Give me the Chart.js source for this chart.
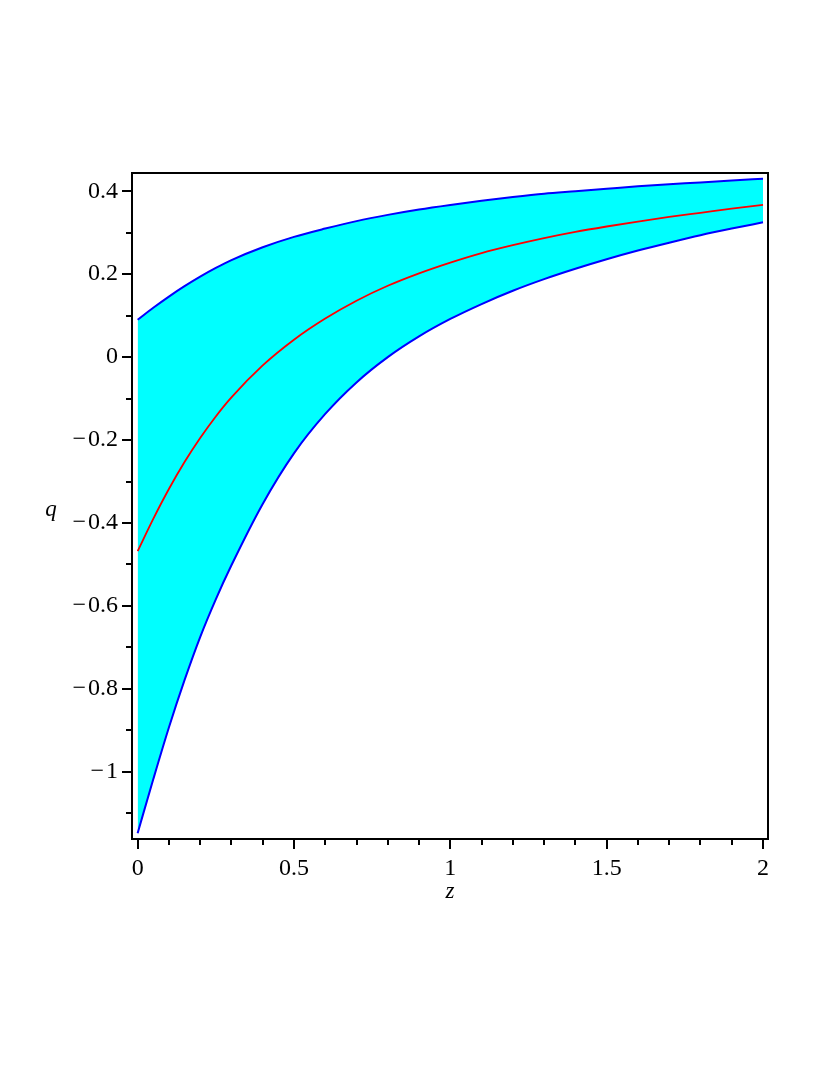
<!DOCTYPE html>
<html>
<head>
<meta charset="utf-8">
<script src="https://cdn.jsdelivr.net/npm/chart.js@4"></script>
<style>
  html, body { margin: 0; padding: 0; background: #fff; }
  canvas { display: block; }
</style>
</head>
<body>
<canvas id="chart" width="830" height="1075"></canvas>
<script>
// redshift grid
const zValues = [0, 0.05, 0.1, 0.15, 0.2, 0.25, 0.3, 0.4, 0.5, 0.6, 0.7, 0.8, 0.9, 1.0,
                 1.1, 1.2, 1.3, 1.4, 1.5, 1.6, 1.7, 1.8, 1.9, 2.0];
// upper bound of q(z)
const qUpper = [0.090, 0.119, 0.146, 0.171, 0.194, 0.215, 0.234, 0.265, 0.290, 0.310, 0.328, 0.343,
                0.356, 0.367, 0.377, 0.386, 0.394, 0.400, 0.406, 0.412, 0.417, 0.421, 0.426, 0.430];
// best fit q(z)
const qBest = [-0.468, -0.390, -0.318, -0.253, -0.195, -0.143, -0.097, -0.020, 0.042, 0.093, 0.136, 0.172,
               0.202, 0.228, 0.251, 0.270, 0.287, 0.302, 0.315, 0.327, 0.338, 0.348, 0.358, 0.367];
// lower bound of q(z)
const qLower = [-1.148, -1.018, -0.893, -0.779, -0.675, -0.584, -0.502, -0.354, -0.232, -0.137, -0.061, 0.000,
                0.050, 0.092, 0.128, 0.160, 0.188, 0.213, 0.236, 0.257, 0.276, 0.294, 0.310, 0.325];

const xTicks = [0, 0.5, 1, 1.5, 2];
const yTicks = [-1, -0.8, -0.6, -0.4, -0.2, 0, 0.2, 0.4];
const xMinor = [0.1, 0.2, 0.3, 0.4, 0.6, 0.7, 0.8, 0.9, 1.1, 1.2, 1.3, 1.4, 1.6, 1.7, 1.8, 1.9];
const yMinor = [-1.1, -0.9, -0.7, -0.5, -0.3, -0.1, 0.1, 0.3];

const FONT = 'Liberation Serif';

function pts(ys){
  return zValues.map((z,i)=>({x: z, y: ys[i]}));
}

function fmt(v){
  if(v < 0) return '\u2212' + '\u200A' + String(Math.abs(v));
  return String(v);
}

// box, tick marks and the axis letters
const frame = {
  id: 'frame',
  afterDraw(chart){
    const {ctx, chartArea: a, scales} = chart;
    const sx = scales.x, sy = scales.y;
    ctx.save();
    ctx.strokeStyle = '#000';
    ctx.lineWidth = 2;
    ctx.strokeRect(a.left, a.top, a.right - a.left, a.bottom - a.top);
    ctx.beginPath();
    for(const v of xTicks){ const p = Math.round(sx.getPixelForValue(v)); ctx.moveTo(p, a.bottom); ctx.lineTo(p, a.bottom + 10); }
    for(const v of xMinor){ const p = Math.round(sx.getPixelForValue(v)); ctx.moveTo(p, a.bottom); ctx.lineTo(p, a.bottom + 6); }
    for(const v of yTicks){ const p = Math.round(sy.getPixelForValue(v)); ctx.moveTo(a.left, p); ctx.lineTo(a.left - 10, p); }
    for(const v of yMinor){ const p = Math.round(sy.getPixelForValue(v)); ctx.moveTo(a.left, p); ctx.lineTo(a.left - 6, p); }
    ctx.stroke();
    ctx.fillStyle = '#000';
    ctx.font = `italic 23px "${FONT}"`;
    ctx.textAlign = 'center';
    ctx.textBaseline = 'middle';
    ctx.fillText('z', (a.left + a.right) / 2, 892);
    ctx.fillText('q', 51, 510);
    ctx.restore();
  }
};

new Chart(document.getElementById('chart'), {
  type: 'line',
  data: {
    datasets: [
      {
        data: pts(qUpper),
        borderColor: '#0000ff',
        borderWidth: 2,
        backgroundColor: '#00ffff',
        fill: {target: 1},
        pointRadius: 0,
        cubicInterpolationMode: 'monotone',
        order: 2
      },
      {
        data: pts(qLower),
        borderColor: '#0000ff',
        borderWidth: 2,
        fill: false,
        pointRadius: 0,
        cubicInterpolationMode: 'monotone',
        order: 1
      },
      {
        data: pts(qBest),
        borderColor: '#ff0000',
        borderWidth: 1.8,
        fill: false,
        pointRadius: 0,
        cubicInterpolationMode: 'monotone',
        order: 0
      }
    ]
  },
  options: {
    responsive: false,
    animation: false,
    events: [],
    layout: {padding: {top: 173, right: 62, left: 0, bottom: 0}},
    plugins: {legend: {display: false}, tooltip: {enabled: false}},
    scales: {
      x: {
        type: 'linear',
        min: -0.018,
        max: 2.016,
        grid: {display: false},
        border: {display: false},
        afterBuildTicks: (s)=>{ s.ticks = xTicks.map(v=>({value: v})); },
        afterFit: (s)=>{ s.height = 236; },
        ticks: {
          padding: 7,
          maxRotation: 0,
          color: '#000',
          font: {family: FONT, size: 24},
          callback: (v)=> fmt(v)
        }
      },
      y: {
        type: 'linear',
        min: -1.162,
        max: 0.444,
        grid: {display: false},
        border: {display: false},
        afterBuildTicks: (s)=>{ s.ticks = yTicks.map(v=>({value: v})); },
        afterFit: (s)=>{ s.width = 132; },
        ticks: {
          padding: 6,
          color: '#000',
          font: {family: FONT, size: 24},
          callback: (v)=> fmt(v)
        }
      }
    }
  },
  plugins: [frame]
});
</script>
</body>
</html>
